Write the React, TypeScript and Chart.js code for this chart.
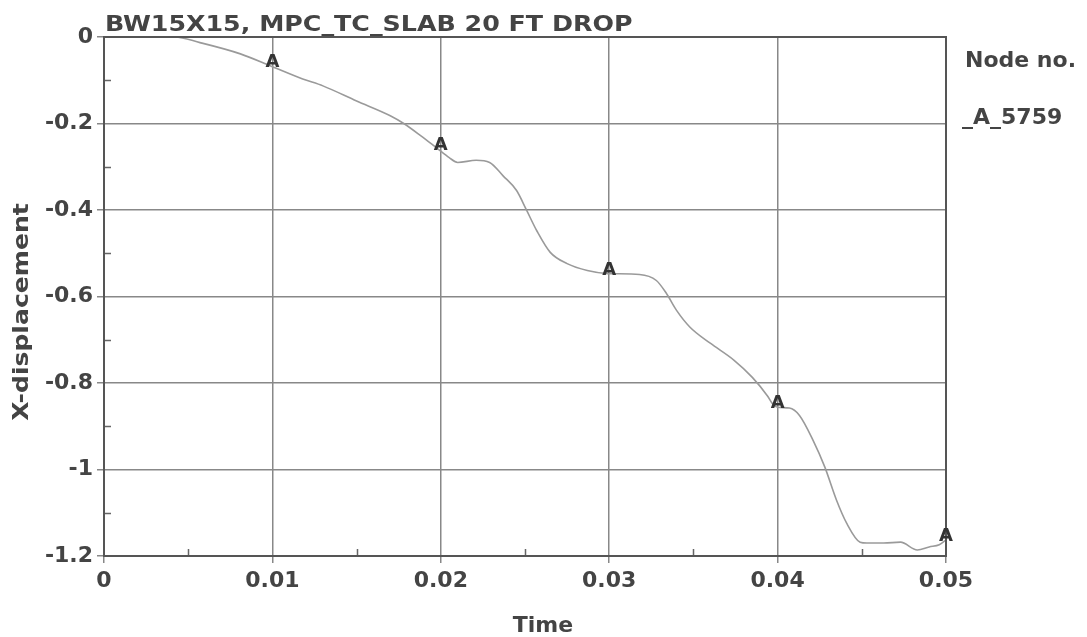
import { useEffect, useRef } from 'react';
import { Chart, registerables } from 'chart.js';

Chart.register(...registerables);

// ---- data ----
const times = [
  0, 0.0042, 0.0057, 0.0081, 0.0099, 0.0118, 0.013, 0.015, 0.017, 0.0178,
  0.0188, 0.0198, 0.0205, 0.021, 0.0221, 0.0229, 0.0237, 0.0245, 0.0251, 0.0257,
  0.0265, 0.0275, 0.0287, 0.0299, 0.0318, 0.0328, 0.0334, 0.034, 0.0348, 0.036,
  0.0374, 0.0385, 0.0394, 0.0397, 0.04, 0.0407, 0.0413, 0.0421, 0.0428, 0.0435,
  0.0441, 0.0449, 0.0453, 0.0463, 0.0473, 0.0483, 0.049, 0.0496, 0.05,
];
const xDisplacement = [
  0, 0, -0.013, -0.039, -0.067, -0.097, -0.113, -0.148, -0.182, -0.2,
  -0.228, -0.258, -0.279, -0.29, -0.285, -0.29, -0.321, -0.355, -0.401, -0.448,
  -0.498, -0.524, -0.54, -0.547, -0.549, -0.563, -0.593, -0.632, -0.671, -0.708,
  -0.747, -0.787, -0.83, -0.848, -0.856, -0.858, -0.875, -0.932, -0.994, -1.071,
  -1.124, -1.168, -1.17, -1.17, -1.168, -1.186, -1.179, -1.174, -1.163,
];
const markerTimes = [0.01, 0.02, 0.03, 0.04, 0.05];
const markerValues = [-0.067, -0.26, -0.547, -0.856, -1.163];
const xMinorTicks = [0.005, 0.015, 0.025, 0.035, 0.045];
const yMinorTicks = [-0.1, -0.3, -0.5, -0.7, -0.9, -1.1];

const chartTitle = 'BW15X15, MPC_TC_SLAB 20 FT DROP';
const legendTitle = 'Node no.';
const legendEntry = '_A_5759';
const markerLabel = 'A';
const xAxisTitle = 'Time';
const yAxisTitle = 'X-displacement';

const FONT = '"DejaVu Sans", "Liberation Sans", sans-serif';
const TEXT = '#444';

const fmt = (v: number | string) => String(parseFloat(Number(v).toFixed(3)));

const overlay = {
  id: 'overlay',
  afterDatasetsDraw(chart: any) {
    const { ctx, chartArea: a, scales } = chart;
    ctx.save();
    // minor ticks (inside)
    ctx.strokeStyle = '#666';
    ctx.lineWidth = 1.5;
    ctx.beginPath();
    xMinorTicks.forEach((v) => {
      const px = Math.round(scales.x.getPixelForValue(v)) + 0.5;
      ctx.moveTo(px, a.bottom);
      ctx.lineTo(px, a.bottom - 7);
    });
    yMinorTicks.forEach((v) => {
      const py = Math.round(scales.y.getPixelForValue(v)) + 0.5;
      ctx.moveTo(a.left, py);
      ctx.lineTo(a.left + 7, py);
    });
    ctx.stroke();
    // frame
    ctx.strokeStyle = '#555';
    ctx.lineWidth = 2;
    ctx.strokeRect(a.left, a.top, a.right - a.left, a.bottom - a.top);
    // node markers
    const meta = chart.getDatasetMeta(1);
    ctx.fillStyle = '#333';
    ctx.font = `bold 18px ${FONT}`;
    ctx.textAlign = 'center';
    ctx.textBaseline = 'alphabetic';
    meta.data.forEach((el: any) => {
      ctx.fillText(markerLabel, el.x, el.y + 1);
    });
    ctx.restore();
  },
  afterDraw(chart: any) {
    const { ctx, chartArea: a } = chart;
    ctx.save();
    ctx.fillStyle = TEXT;
    ctx.textBaseline = 'alphabetic';
    // chart title (wide face)
    ctx.font = `bold 22px ${FONT}`;
    ctx.textAlign = 'left';
    ctx.save();
    ctx.translate(a.left + 1, 31);
    ctx.scale(1.15, 1);
    ctx.fillText(chartTitle, 0, 0);
    ctx.restore();
    // legend
    ctx.fillText(legendTitle, a.right + 19, 67);
    ctx.fillText(legendEntry, a.right + 16, 124);
    // x axis title
    ctx.textAlign = 'center';
    ctx.fillText(xAxisTitle, 543, 632);
    // y axis title
    ctx.save();
    ctx.translate(28, 312);
    ctx.rotate(-Math.PI / 2);
    ctx.scale(1.14, 1);
    ctx.fillText(yAxisTitle, 0, 0);
    ctx.restore();
    ctx.restore();
  },
};

export default function App() {
  const ref = useRef<HTMLCanvasElement | null>(null);

  useEffect(() => {
    if (!ref.current) return;
    const curve = times.map((t, i) => ({ x: t, y: xDisplacement[i] }));
    const markers = markerTimes.map((t, i) => ({ x: t, y: markerValues[i] }));
    const tickFont = { family: FONT, size: 22, weight: 'bold' as const };
    const chart = new Chart(ref.current, {
      type: 'line',
      data: {
        datasets: [
          {
            label: '5759',
            data: curve,
            borderColor: '#9a9a9a',
            borderWidth: 1.6,
            pointRadius: 0,
            cubicInterpolationMode: 'monotone',
            fill: false,
          },
          {
            label: 'markers',
            data: markers,
            showLine: false,
            pointRadius: 0,
            borderColor: 'transparent',
          },
        ],
      },
      options: {
        animation: false,
        responsive: false,
        layout: { padding: { top: 37, right: 141, left: 0, bottom: 0 } },
        plugins: {
          legend: { display: false },
          tooltip: { enabled: false },
          title: { display: false },
        },
        scales: {
          x: {
            type: 'linear',
            min: 0,
            max: 0.05,
            ticks: {
              stepSize: 0.01,
              callback: (v: any) => fmt(v),
              font: tickFont,
              color: TEXT,
              padding: 5,
              maxRotation: 0,
              autoSkip: false,
            },
            grid: { color: '#888', lineWidth: 1.5, tickLength: 7, drawTicks: true },
            border: { display: true, color: '#555', width: 2 },
            afterFit: (s: any) => {
              s.height = 81;
            },
          },
          y: {
            type: 'linear',
            min: -1.2,
            max: 0,
            ticks: {
              stepSize: 0.2,
              callback: (v: any) => fmt(v),
              font: tickFont,
              color: TEXT,
              padding: 4,
              autoSkip: false,
            },
            grid: { color: '#888', lineWidth: 1.5, tickLength: 7, drawTicks: true },
            border: { display: true, color: '#555', width: 2 },
            afterFit: (s: any) => {
              s.width = 104;
            },
          },
        },
      },
      plugins: [overlay],
    });
    return () => chart.destroy();
  }, []);

  return (
    <div style={{ position: 'absolute', left: 0, top: 0, width: 1087, height: 637, background: '#fff' }}>
      <canvas ref={ref} width={1087} height={637} style={{ display: 'block', width: 1087, height: 637 }} />
    </div>
  );
}
